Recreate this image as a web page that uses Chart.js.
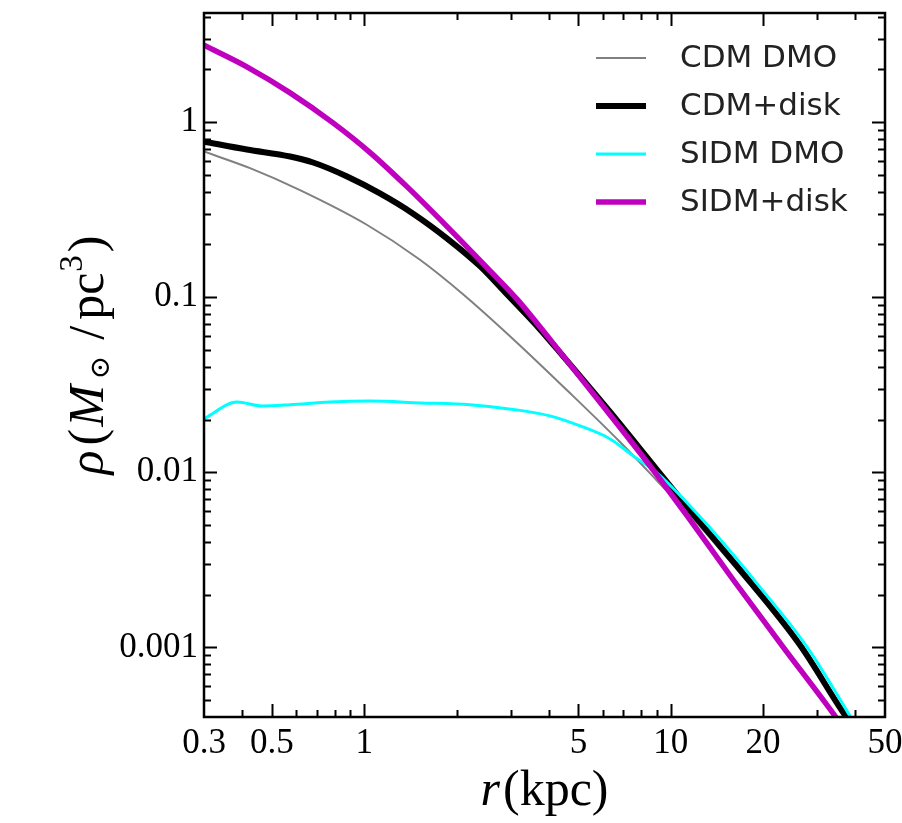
<!DOCTYPE html>
<html lang="en">
  <head>
    <meta charset="UTF-8" />
    <title>Density profiles: CDM vs SIDM</title>
    <script src="https://cdn.jsdelivr.net/npm/chart.js"></script>
    <style>
      html, body { margin: 0; padding: 0; background: #fff; overflow: hidden; }
      #wrap { width: 902px; height: 823px; position: relative; }
    </style>
  </head>
  <body>
    <div id="wrap"><canvas id="rhoChart"></canvas></div>

    <script>
      // radius r (kpc) and density rho (Msun/pc^3)
      const rCdmDmo = [0.3, 0.424, 0.617, 1.013, 1.52, 2.1, 3.15, 4.58, 6.82, 9.02, 12.4, 18.1, 26.4, 37.6, 40];
      const rhoCdmDmo = [0.679, 0.546, 0.409, 0.261, 0.1637, 0.104, 0.055, 0.0295, 0.01493, 0.00895, 0.00495, 0.00228, 0.00104, 0.00041, 0.00035];

      const rCdmDisk = [0.3, 0.414, 0.573, 0.681, 0.879, 1.125, 1.44, 1.86, 2.39, 2.92, 3.74, 4.45, 6.34, 9.02, 12.4, 18.1, 26.4, 37.0, 40];
      const rhoCdmDisk = [0.774, 0.697, 0.636, 0.588, 0.489, 0.3915, 0.301, 0.217, 0.15, 0.104, 0.0657, 0.0461, 0.0221, 0.01033, 0.00522, 0.00238, 0.00103, 0.00041, 0.00034];

      const rSidmDmo = [0.3, 0.385, 0.464, 0.573, 0.773, 1.045, 1.52, 2.21, 3.15, 4.03, 5.06, 6.34, 7.54, 9.02, 13.4, 19.1, 28.0, 37.6, 40];
      const rhoSidmDmo = [0.0202, 0.0252, 0.0239, 0.0243, 0.0252, 0.0255, 0.0249, 0.0243, 0.0227, 0.021, 0.0184, 0.0155, 0.0124, 0.00993, 0.00483, 0.00232, 0.00099, 0.000432, 0.00036];

      const rSidmDisk = [0.3, 0.414, 0.573, 0.791, 1.045, 1.378, 1.86, 2.51, 3.15, 4.03, 5.87, 8.55, 11.3, 15.96, 23.2, 33.8, 36];
      const rhoSidmDisk = [2.75, 2.07, 1.47, 0.99, 0.67, 0.428, 0.254, 0.148, 0.0974, 0.0576, 0.0252, 0.0109, 0.00565, 0.00244, 0.00101, 0.000421, 0.00036];

      // tick labels and tick marks
      const xLabelTicks = [0.3, 0.5, 1, 5, 10, 20, 50];
      const xMajorTicks = [0.5, 1, 5, 10, 20];
      const xMinorTicks = [0.4, 0.6, 0.7, 0.8, 0.9, 2, 3, 4, 6, 7, 8, 9, 30, 40];
      const yLabelTicks = [0.001, 0.01, 0.1, 1];
      const yMajorTicks = [0.001, 0.01, 0.1, 1];
      const yMinorTicks = [
        0.0005, 0.0006, 0.0007, 0.0008, 0.0009,
        0.002, 0.003, 0.004, 0.005, 0.006, 0.007, 0.008, 0.009,
        0.02, 0.03, 0.04, 0.05, 0.06, 0.07, 0.08, 0.09,
        0.2, 0.3, 0.4, 0.5, 0.6, 0.7, 0.8, 0.9,
        2, 3, 4,
      ];

      const toPoints = (xs, ys) => xs.map((x, i) => ({ x: x, y: ys[i] }));

      const serif = "'Liberation Serif', 'DejaVu Serif', serif";

      // frame with inward ticks on all four sides
      const framePlugin = {
        id: "frame",
        afterDraw(chart) {
          const { ctx, chartArea: a, scales } = chart;
          ctx.save();
          ctx.strokeStyle = "#000";
          ctx.lineWidth = 2;
          ctx.beginPath();
          const xt = (vals, len) =>
            vals.forEach((v) => {
              const px = Math.round(scales.x.getPixelForValue(v)) + 0.5;
              ctx.moveTo(px, a.bottom);
              ctx.lineTo(px, a.bottom - len);
              ctx.moveTo(px, a.top);
              ctx.lineTo(px, a.top + len);
            });
          const yt = (vals, len) =>
            vals.forEach((v) => {
              const py = Math.round(scales.y.getPixelForValue(v)) + 0.5;
              ctx.moveTo(a.left, py);
              ctx.lineTo(a.left + len, py);
              ctx.moveTo(a.right, py);
              ctx.lineTo(a.right - len, py);
            });
          xt(xMajorTicks, 13);
          xt(xMinorTicks, 7);
          yt(yMajorTicks, 13);
          yt(yMinorTicks, 7);
          ctx.stroke();
          ctx.lineWidth = 2.5;
          ctx.strokeRect(a.left, a.top, a.right - a.left, a.bottom - a.top);
          ctx.restore();
        },
      };

      // axis titles with mixed italic / upright pieces
      function drawRuns(ctx, runs) {
        let total = 0;
        runs.forEach((r) => {
          ctx.font = r.f;
          r.w = ctx.measureText(r.t).width;
          total += r.w + (r.gap || 0);
        });
        let x = -total / 2;
        runs.forEach((r) => {
          ctx.font = r.f;
          ctx.fillText(r.t, x, r.dy || 0);
          x += r.w + (r.gap || 0);
        });
      }

      const titlePlugin = {
        id: "titles",
        afterDraw(chart) {
          const { ctx, chartArea: a } = chart;
          ctx.save();
          ctx.fillStyle = "#000";
          ctx.textBaseline = "alphabetic";
          ctx.textAlign = "left";

          ctx.save();
          ctx.translate((a.left + a.right) / 2, 805);
          drawRuns(ctx, [
            { t: "r", f: "italic 50px " + serif, gap: 3 },
            { t: "(kpc)", f: "50px " + serif },
          ]);
          ctx.restore();

          ctx.save();
          ctx.translate(103, 355);
          ctx.rotate(-Math.PI / 2);
          drawRuns(ctx, [
            { t: "ρ", f: "italic 50px " + serif, gap: 5 },
            { t: "(", f: "50px " + serif, gap: 2 },
            { t: "M", f: "italic 50px " + serif, gap: 6 },
            { t: "⊙", f: "28px 'DejaVu Serif', serif", dy: 6, gap: 16 },
            { t: "/", f: "50px " + serif, gap: 6 },
            { t: "pc", f: "50px " + serif, gap: 1 },
            { t: "3", f: "33px " + serif, dy: -21, gap: 3 },
            { t: ")", f: "50px " + serif },
          ]);
          ctx.restore();

          ctx.restore();
        },
      };

      // legend in the upper right corner
      const legendPlugin = {
        id: "cornerLegend",
        afterDraw(chart) {
          const ctx = chart.ctx;
          ctx.save();
          ctx.font = "31px 'DejaVu Sans', sans-serif";
          ctx.textBaseline = "middle";
          ctx.textAlign = "left";
          chart.data.datasets.forEach((ds, i) => {
            const y = 58 + i * 48;
            ctx.strokeStyle = ds.borderColor;
            ctx.lineWidth = ds.borderWidth;
            ctx.beginPath();
            ctx.moveTo(596, y);
            ctx.lineTo(646, y);
            ctx.stroke();
            ctx.fillStyle = "#222";
            ctx.fillText(ds.label, 680, y + 1);
          });
          ctx.restore();
        },
      };

      const config = {
        type: "line",
        data: {
          datasets: [
            {
              label: "CDM DMO",
              data: toPoints(rCdmDmo, rhoCdmDmo),
              borderColor: "#808080",
              borderWidth: 2,
              order: 4,
            },
            {
              label: "CDM+disk",
              data: toPoints(rCdmDisk, rhoCdmDisk),
              borderColor: "#000000",
              borderWidth: 6,
              order: 3,
            },
            {
              label: "SIDM DMO",
              data: toPoints(rSidmDmo, rhoSidmDmo),
              borderColor: "#00ffff",
              borderWidth: 3,
              order: 2,
            },
            {
              label: "SIDM+disk",
              data: toPoints(rSidmDisk, rhoSidmDisk),
              borderColor: "#bf00bf",
              borderWidth: 5.5,
              order: 1,
            },
          ],
        },
        options: {
          responsive: true,
          maintainAspectRatio: false,
          animation: false,
          layout: { padding: { left: 0, right: 17, top: 13, bottom: 0 } },
          elements: {
            point: { radius: 0 },
            line: { cubicInterpolationMode: "monotone", fill: false, borderCapStyle: "butt" },
          },
          plugins: {
            legend: { display: false },
            tooltip: { enabled: false },
          },
          scales: {
            x: {
              type: "logarithmic",
              min: 0.3,
              max: 50,
              grid: { display: false, drawTicks: false },
              border: { display: false },
              afterBuildTicks: (scale) => {
                scale.ticks = xLabelTicks.map((v) => ({ value: v }));
              },
              afterFit: (scale) => {
                scale.height = 106;
                scale.paddingLeft = 0;
                scale.paddingRight = 0;
              },
              ticks: {
                autoSkip: false,
                maxRotation: 0,
                minRotation: 0,
                padding: 6,
                color: "#000",
                font: { family: serif, size: 35 },
                callback: (v) => String(v),
              },
            },
            y: {
              type: "logarithmic",
              min: 0.0004,
              max: 4.2,
              grid: { display: false, drawTicks: false },
              border: { display: false },
              afterBuildTicks: (scale) => {
                scale.ticks = yLabelTicks.map((v) => ({ value: v }));
              },
              afterFit: (scale) => {
                scale.width = 204;
                scale.paddingTop = 0;
                scale.paddingBottom = 0;
              },
              ticks: {
                autoSkip: false,
                padding: 6,
                color: "#000",
                font: { family: serif, size: 35 },
                callback: (v) => String(v),
              },
            },
          },
        },
        plugins: [framePlugin, titlePlugin, legendPlugin],
      };

      new Chart(document.getElementById("rhoChart"), config);
    </script>
  </body>
</html>
